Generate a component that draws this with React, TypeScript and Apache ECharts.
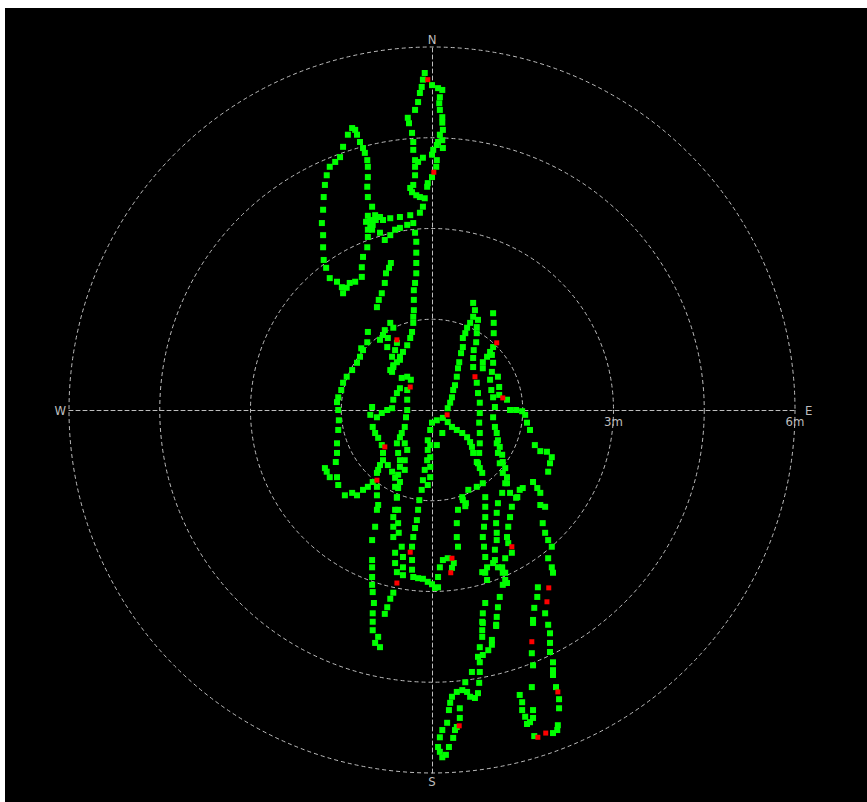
import React, { useEffect, useRef } from "react";
import * as echarts from "echarts";

// Positions in metres, [east, north], relative to the station at the centre.
const spikeEast = [[-0.12,5.57],[0,5.37],[0.10,5.32],[0.17,5.29],[0.13,5.17],[0.12,5.07],[0.13,4.96],[0.17,4.84],[0.17,4.75],[0.18,4.63],[0.13,4.55],[0.17,4.46],[0.10,4.43],[0.08,4.38],[0.18,4.33],[0.02,4.30],[0,4.22],[0.08,4.13],[0.07,4.02],[0,3.85],[-0.07,3.75],[-0.08,3.69]];
const spikeWest = [[-0.15,5.46],[-0.17,5.34],[-0.20,5.24],[-0.23,5.09],[-0.28,4.96],[-0.40,4.83],[-0.38,4.74],[-0.33,4.58],[-0.31,4.43],[-0.31,4.30],[-0.28,4.13],[-0.28,4.02],[-0.23,4.10],[-0.15,4.17],[-0.28,3.88],[-0.31,3.72],[-0.36,3.67],[-0.33,3.60],[-0.26,3.55],[-0.20,3.52],[-0.12,3.50],[-0.15,3.36],[-0.20,3.26]];
const ridgeBand = [[-0.36,3.22],[-0.53,3.19],[-0.69,3.17],[-0.81,3.14],[-0.86,3.19],[-0.94,3.22],[-1.06,3.21],[-1.09,3.11],[-1.02,3.04],[-0.99,2.98],[-0.93,3.14],[-1.02,3.14],[-0.98,3.06],[-1.06,2.98],[-0.86,2.93],[-0.78,2.81],[-0.69,2.89],[-0.61,2.98],[-0.53,3.01],[-0.41,3.06],[-0.31,3.09]];
const ridgeSouth = [[-0.28,2.93],[-0.26,2.78],[-0.26,2.60],[-0.26,2.43],[-0.26,2.26],[-0.28,2.10],[-0.30,1.98],[-0.30,1.82],[-0.30,1.65],[-0.31,1.54],[-0.31,1.44],[-0.33,1.29],[-0.36,1.19],[-0.41,1.07],[-0.48,0.96],[-0.53,0.88],[-0.58,0.79],[-0.64,0.71],[-0.66,0.63]];
const westLoop = [[-0.99,3.36],[-1.06,3.52],[-1.07,3.69],[-1.06,3.85],[-1.06,4.02],[-1.07,4.13],[-1.11,4.25],[-1.14,4.33],[-1.19,4.43],[-1.24,4.55],[-1.27,4.63],[-1.32,4.66],[-1.39,4.55],[-1.47,4.35],[-1.52,4.18],[-1.60,4.10],[-1.69,4.02],[-1.74,3.88],[-1.77,3.72],[-1.79,3.52],[-1.80,3.31],[-1.82,3.09],[-1.80,2.89],[-1.80,2.69],[-1.79,2.48],[-1.75,2.35],[-1.69,2.18],[-1.57,2.12],[-1.49,2.03],[-1.47,1.93],[-1.41,2.02],[-1.36,2.10],[-1.27,2.12]];
const westStub = [[-1.06,2.86],[-1.07,2.69],[-1.14,2.53],[-1.16,2.36],[-1.16,2.20]];
const midStub = [[-0.68,2.43],[-0.71,2.35],[-0.76,2.26],[-0.78,2.10],[-0.83,1.93],[-0.88,1.82],[-0.91,1.70]];
const midCluster = [[-0.69,1.44],[-0.64,1.36],[-0.78,1.32],[-0.81,1.24],[-0.73,1.19],[-0.86,1.16],[-0.58,1.11],[-0.74,1.04],[-0.61,0.99],[-0.66,0.88],[-0.53,0.83],[-0.64,0.74],[-0.69,0.66]];
const westArc = [[-1.06,1.29],[-1.07,1.12],[-1.14,0.99],[-1.17,1.02],[-1.19,0.88],[-1.24,0.78],[-1.32,0.66],[-1.41,0.55],[-1.47,0.45],[-1.50,0.33],[-1.55,0.21],[-1.57,0.13],[-1.55,0],[-1.54,-0.17],[-1.55,-0.33],[-1.57,-0.55],[-1.57,-0.71],[-1.59,-0.86],[-1.57,-1.11],[-1.55,-1.24],[-1.77,-0.96],[-1.74,-1.02],[-1.69,-1.11]];
const westBand = [[-1.44,-1.41],[-1.32,-1.37],[-1.24,-1.41],[-1.14,-1.32],[-1.06,-1.27],[-0.98,-1.19],[-0.91,-1.04],[-0.89,-0.99]];
const westLong = [[-0.91,-1.27],[-0.91,-1.41],[-0.89,-1.57],[-0.91,-1.65],[-0.94,-1.93],[-0.99,-2.15],[-0.99,-2.48],[-0.99,-2.60],[-0.99,-2.76],[-0.99,-2.89],[-0.98,-3.01],[-0.96,-3.19],[-0.98,-3.36],[-0.98,-3.50],[-0.98,-3.64],[-0.89,-3.75],[-0.86,-3.92],[-0.94,-3.85]];
const centreWest = [[-0.99,0.05],[-1.02,-0.08],[-0.91,-0.12],[-0.83,-0.05],[-0.74,0],[-0.66,0.03],[-0.64,0.17],[-0.58,0.28],[-0.53,0.36]];
const trackA = [[-0.98,-0.28],[-0.94,-0.38],[-0.89,-0.46],[-0.83,-0.58],[-0.81,-0.71],[-0.81,-0.83],[-0.86,-0.91],[-0.73,-0.91],[-0.66,-1.02],[-0.61,-1.12],[-0.61,-1.27],[-0.58,-1.44],[-0.61,-1.65],[-0.64,-1.77],[-0.64,-1.93],[-0.64,-2.10],[-0.61,-2.36],[-0.61,-2.53],[-0.58,-2.68],[-0.64,-3.02],[-0.69,-3.12],[-0.74,-3.26],[-0.78,-3.37]];
const trackB = [[-0.53,-0.45],[-0.58,-0.55],[-0.56,-0.71],[-0.53,-0.83],[-0.53,-0.94],[-0.56,-1.07],[-0.53,-1.19],[-0.56,-1.29],[-0.58,-1.45],[-0.56,-1.65],[-0.56,-1.87],[-0.55,-2.03],[-0.50,-2.26],[-0.48,-2.43],[-0.48,-2.60],[-0.48,-2.73]];
const trackC = [[-0.50,0.53],[-0.41,0.55],[-0.35,0.50],[-0.41,0.33],[-0.41,0.17],[-0.41,0],[-0.43,-0.12],[-0.45,-0.28],[-0.50,-0.38],[-0.45,-0.55],[-0.41,-0.66],[-0.45,-0.83],[-0.45,-0.99]];
const centreSouth = [[0.18,-0.13],[0.08,-0.17],[0,-0.21],[-0.03,-0.33],[-0.07,-0.50],[-0.07,-0.66],[-0.08,-0.83],[-0.12,-0.99],[-0.15,-1.16],[-0.17,-1.32],[-0.21,-1.49],[-0.23,-1.65],[-0.25,-1.82],[-0.28,-1.95],[-0.31,-2.10],[-0.33,-2.26],[-0.33,-2.48],[-0.33,-2.64],[-0.31,-2.76],[-0.23,-2.78],[-0.15,-2.79],[-0.07,-2.84],[0,-2.88],[0.05,-2.94],[0.10,-2.93],[0.10,-2.76],[0.13,-2.60],[0.18,-2.48],[0.26,-2.45],[0.36,-2.53],[0.33,-2.61],[-0.03,-0.58],[-0.03,-0.78],[-0.03,-0.94],[-0.03,-1.11],[-0.07,-1.24],[0.08,-0.58],[0.17,-0.38]];
const centreNorth = [[0.26,0.03],[0.30,0.12],[0.33,0.21],[0.35,0.33],[0.38,0.41],[0.41,0.55],[0.43,0.69],[0.45,0.79],[0.48,0.94],[0.51,1.04],[0.51,1.19],[0.55,1.27],[0.58,1.36],[0.63,1.44],[0.68,1.54],[0.71,1.65],[0.68,1.77]];
const centreEast = [[0.26,-0.20],[0.33,-0.28],[0.41,-0.33],[0.50,-0.38],[0.58,-0.45],[0.63,-0.53],[0.66,-0.61],[0.68,-0.71],[0.74,-0.86],[0.79,-0.96],[0.83,-1.04],[0.84,-1.21],[0.74,-1.27],[0.60,-1.32],[0.51,-1.49],[0.43,-1.65],[0.41,-1.87],[0.41,-2.10],[0.43,-2.26],[0.50,-1.44],[0.56,-1.54],[0.55,-1.59]];
const laneD = [[0.76,1.49],[0.74,1.37],[0.74,1.27],[0.73,1.12],[0.69,0.99],[0.68,0.86],[0.68,0.71],[0.74,0.45],[0.76,0.28],[0.79,0.12],[0.79,-0.05],[0.78,-0.21],[0.79,-0.38],[0.79,-0.55],[0.78,-0.71],[0.76,-0.88]];
const laneE = [[0.88,-1.44],[0.88,-1.60],[0.88,-1.77],[0.86,-1.93],[0.84,-2.10],[0.86,-2.26],[0.88,-2.43],[0.91,-2.60],[0.88,-2.69],[0.91,-2.81],[0.83,-2.68],[1.01,-2.53],[1.09,-2.60],[1.17,-2.69],[1.21,-2.81],[1.17,-2.89],[0.88,-3.19],[0.84,-3.36],[0.83,-3.50],[0.83,-3.64],[0.83,-3.75],[0.79,-3.92],[0.76,-4.08]];
const laneF = [[1.01,1.60],[1.02,1.44],[1.02,1.27],[1.01,1.04],[0.96,0.96],[0.91,0.88],[0.84,0.79],[0.84,0.69],[0.99,0.91],[1.01,0.78],[0.99,0.63],[0.96,0.50],[0.98,0.33],[1.01,0.21],[1.04,0.05],[1.01,-0.12],[1.04,-0.28],[1.07,-0.38],[1.09,-0.50],[1.12,-0.61],[1.16,-0.74],[1.17,-0.86],[1.21,-0.96],[1.24,-1.11],[1.09,0.55],[1.11,0.38],[1.11,0.25],[1.24,0.17],[1.29,0],[1.39,0],[1.49,-0.02],[1.54,-0.08],[1.57,-0.21],[1.62,-0.33]];
const laneG = [[1.07,-0.55],[1.09,-0.71],[1.12,-0.88],[1.17,-1.04],[1.21,-1.21],[1.16,-1.37],[1.09,-1.54],[1.07,-1.70],[1.06,-1.87],[1.07,-2.03],[1.07,-2.15],[1.04,-2.31],[1.04,-2.48],[1.16,-2.60]];
const laneH = [[1.24,-1.21],[1.29,-1.37],[1.32,-1.60],[1.29,-1.77],[1.26,-1.93],[1.24,-2.10],[1.26,-2.20],[1.32,-2.36],[1.21,-2.45],[1.21,-2.69],[1.24,-2.86],[1.12,-3.09],[1.09,-3.26],[1.07,-3.42],[1.06,-3.55],[0.99,-3.80],[0.99,-3.88],[0.93,-3.97],[0.84,-4.05],[0.79,-4.17],[0.66,-4.33],[0.79,-4.33],[0.84,-3.52],[1.06,-3.57]];
const eastLane = [[1.70,-0.58],[1.79,-0.68],[1.90,-0.69],[1.98,-0.78],[1.95,-0.88],[1.92,-1.02],[1.67,-1.19],[1.74,-1.29],[1.79,-1.37],[1.79,-1.57],[1.87,-1.60],[1.83,-1.87],[1.87,-2.03],[1.92,-2.15],[1.98,-2.26],[1.92,-2.45],[1.98,-2.60],[2.00,-2.69],[1.87,-3.36],[1.92,-3.55],[1.95,-3.69],[1.95,-3.85],[1.95,-4.00],[2.00,-4.17],[2.00,-4.30],[2.00,-4.38],[2.05,-4.58],[2.10,-4.78],[2.10,-4.93],[2.08,-5.21],[2.07,-5.29],[2.00,-5.34],[1.69,-5.39],[1.50,-1.29],[1.41,-1.44],[1.45,-1.32],[1.39,-1.45]];
const eastInner = [[1.75,-2.93],[1.74,-3.09],[1.69,-3.27],[1.67,-3.47],[1.67,-3.52],[1.65,-4.02],[1.67,-4.22],[1.65,-4.58]];
const eastHook = [[1.45,-4.71],[1.49,-4.83],[1.49,-4.96],[1.54,-5.07],[1.57,-5.19],[1.67,-4.96],[1.67,-5.09],[1.62,-5.16]];
const southTail = [[0.55,-4.50],[0.50,-4.63],[0.58,-4.66],[0.41,-4.66],[0.33,-4.74],[0.30,-4.84],[0.28,-4.96],[0.25,-5.17],[0.17,-5.29],[0.13,-5.41],[0.10,-5.57],[0.13,-5.65],[0.17,-5.74],[0.23,-5.70],[0.63,-4.74],[0.71,-4.76],[0.76,-4.68],[0.78,-4.51],[0.46,-4.93],[0.46,-5.09],[0.41,-5.24],[0.38,-5.29],[0.35,-5.42],[0.28,-5.57]];

// Fixes flagged in red.
const flaggedFixes = [[-0.07,5.46],[0.03,3.93],[-0.58,1.16],[-0.36,0.38],[0.25,-0.08],[0.71,0.55],[1.07,1.11],[1.17,0.20],[-0.78,-0.61],[-0.91,-1.16],[-0.58,-2.86],[-0.36,-2.35],[0.33,-2.45],[0.31,-2.69],[1.32,-2.26],[1.93,-2.94],[1.90,-3.17],[1.65,-3.83],[2.08,-4.66],[1.88,-5.34],[1.75,-5.41],[0.45,-5.22]];

// Compass bearings (degrees counter-clockwise from east) and their letters.
const compassLabels: Record<number, string> = { 0: "{e|E}", 90: "N", 180: "W", 270: "S" };
const rangeRings = { max: 6, step: 1.5 };
const rangeLabels: Record<number, string> = { 3: "3m", 6: "6m" };

const goodFixes = [
  ...spikeEast, ...spikeWest, ...ridgeBand, ...ridgeSouth, ...westLoop, ...westStub,
  ...midStub, ...midCluster, ...westArc, ...westBand, ...westLong, ...centreWest,
  ...trackA, ...trackB, ...trackC, ...centreSouth, ...centreNorth, ...centreEast,
  ...laneD, ...laneE, ...laneF, ...laneG, ...laneH, ...eastLane, ...eastInner,
  ...eastHook, ...southTail,
];

const CX = 427;
const CY = 402;
const R = 363;
const GREY = "#bdbdbd";
const FONT = "'Liberation Sans Narrow', 'DejaVu Sans Condensed', sans-serif";

export default function App() {
  const ref = useRef<HTMLDivElement>(null);

  useEffect(() => {
    if (!ref.current) return;
    const chart = echarts.init(ref.current, null, { renderer: "svg" });
    const dashed = { color: GREY, width: 1, type: [4, 3] as number[] };
    chart.setOption({
      animation: false,
      backgroundColor: "#000",
      polar: { center: [CX, CY], radius: R },
      angleAxis: {
        type: "value",
        min: 0,
        max: 360,
        interval: 90,
        startAngle: 0,
        clockwise: false,
        axisLine: { show: false },
        axisTick: { show: false },
        splitLine: { show: false },
        axisLabel: {
          color: GREY,
          fontSize: 13,
          lineHeight: 10,
          fontFamily: FONT,
          margin: 3,
          formatter: (v: number) => (v === 360 ? "" : compassLabels[v] ?? ""),
          rich: {
            e: { color: GREY, fontSize: 13, lineHeight: 10, fontFamily: FONT, padding: [0, 0, 0, 7] },
          },
        },
      },
      radiusAxis: {
        type: "value",
        min: 0,
        max: rangeRings.max,
        interval: rangeRings.step,
        axisLine: { show: false },
        axisTick: { show: false },
        axisLabel: {
          color: GREY,
          fontSize: 13,
          lineHeight: 12,
          fontFamily: FONT,
          margin: -5,
          verticalAlign: "top",
          align: "center",
          showMaxLabel: true,
          formatter: (v: number) => rangeLabels[v] ?? "",
        },
        splitLine: { show: true, lineStyle: dashed },
      },
      grid: { left: CX - R, top: CY - R, width: 2 * R, height: 2 * R, containLabel: false },
      xAxis: {
        type: "value",
        min: -rangeRings.max,
        max: rangeRings.max,
        interval: 3,
        axisLine: { show: true, onZero: true, lineStyle: dashed },
        axisTick: { show: false },
        splitLine: { show: false },
        axisLabel: { show: false },
      },
      yAxis: {
        type: "value",
        min: -rangeRings.max,
        max: rangeRings.max,
        interval: 3,
        axisLine: { show: true, onZero: true, lineStyle: dashed },
        axisTick: { show: false },
        splitLine: { show: false },
        axisLabel: { show: false },
      },
      series: [
        {
          type: "scatter",
          data: goodFixes,
          symbol: "rect",
          symbolSize: 6,
          itemStyle: { color: "#00ff00", opacity: 1 },
          z: 3,
        },
        {
          type: "scatter",
          data: flaggedFixes,
          symbol: "rect",
          symbolSize: 5,
          itemStyle: { color: "#ff0000", opacity: 1 },
          z: 4,
        },
      ],
    });
    return () => chart.dispose();
  }, []);

  return (
    <div
      ref={ref}
      style={{ position: "absolute", left: 5, top: 8, width: 862, height: 794, background: "#000" }}
    />
  );
}
